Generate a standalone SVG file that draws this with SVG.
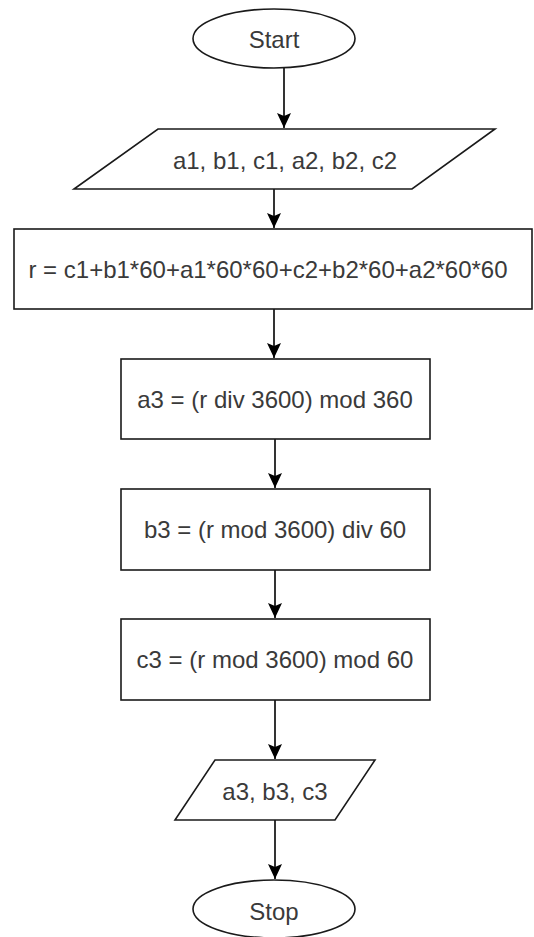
<svg xmlns="http://www.w3.org/2000/svg" width="534" height="937" viewBox="0 0 534 937">
  <defs>
    <marker id="arrow" markerUnits="userSpaceOnUse" markerWidth="16" markerHeight="16" refX="15" refY="7" orient="auto">
      <path d="M0,0 L15,7 L0,14 L3,7 Z" fill="#000"/>
    </marker>
    <style>
      .shape { fill: #fff; stroke: #1a1a1a; stroke-width: 1.6; }
      .label { font-family: "Liberation Sans", Arial, sans-serif; font-size: 24px; fill: #3a3a3a; text-anchor: middle; dominant-baseline: central; }
      .edge { fill: none; stroke: #000; stroke-width: 1.6; marker-end: url(#arrow); }
    </style>
  </defs>
  <rect width="534" height="937" fill="#fff"/>

  <g id="connectors">
    <path class="edge" d="M284,68 L284,128"/>
    <path class="edge" d="M274,189 L274,228"/>
    <path class="edge" d="M274,309 L274,358"/>
    <path class="edge" d="M275,439 L275,488"/>
    <path class="edge" d="M275,570 L275,618"/>
    <path class="edge" d="M275,700 L275,759"/>
    <path class="edge" d="M275,820 L275,879"/>
  </g>

  <g id="start">
    <ellipse class="shape" cx="274" cy="38.5" rx="81" ry="29.5"/>
    <text class="label" x="274" y="39">Start</text>
  </g>

  <g id="input">
    <polygon class="shape" points="158,129 495,129 412,189 74,189"/>
    <text class="label" x="285" y="160">a1, b1, c1, a2, b2, c2</text>
  </g>

  <g id="total">
    <rect class="shape" x="14" y="229" width="518" height="80"/>
    <text class="label" x="268" y="269">r = c1+b1*60+a1*60*60+c2+b2*60+a2*60*60</text>
  </g>

  <g id="calc-a3">
    <rect class="shape" x="121" y="359" width="309" height="80"/>
    <text class="label" x="275" y="399">a3 = (r div 3600) mod 360</text>
  </g>

  <g id="calc-b3">
    <rect class="shape" x="121" y="489" width="309" height="81"/>
    <text class="label" x="275" y="529.5">b3 = (r mod 3600) div 60</text>
  </g>

  <g id="calc-c3">
    <rect class="shape" x="121" y="619" width="309" height="81"/>
    <text class="label" x="275" y="659.5">c3 = (r mod 3600) mod 60</text>
  </g>

  <g id="output">
    <polygon class="shape" points="215,760 375,760 335,820 175,820"/>
    <text class="label" x="275" y="791">a3, b3, c3</text>
  </g>

  <g id="stop">
    <ellipse class="shape" cx="274" cy="909" rx="81" ry="29"/>
    <text class="label" x="274" y="911">Stop</text>
  </g>
</svg>
